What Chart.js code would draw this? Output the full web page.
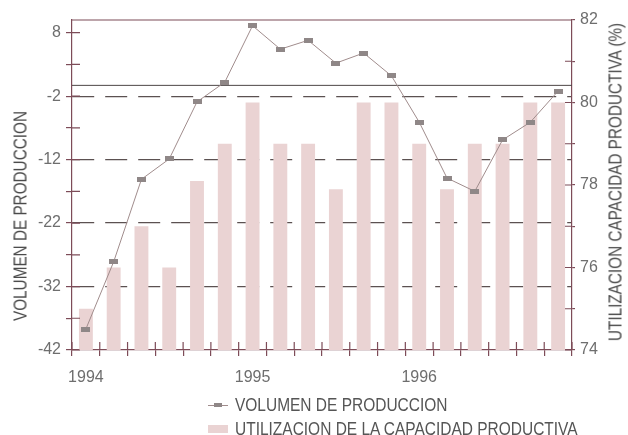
<!DOCTYPE html>
<html>
<head>
<meta charset="utf-8">
<script src="https://cdn.jsdelivr.net/npm/chart.js@4.4.0/dist/chart.umd.min.js"></script>
<style>
body{margin:0;background:#fff;}
#wrap{position:relative;width:628px;height:435px;font-family:'Liberation Sans',Arial,sans-serif;}
.titulo{position:absolute;white-space:nowrap;font-size:18px;color:#4a4a4a;transform:translate(-50%,-50%) rotate(-90deg) scaleX(0.85);}
#leyenda{position:absolute;left:208px;top:393px;font-size:18px;color:#555;line-height:24px;}
.item{display:flex;align-items:center;white-space:nowrap;}
.item b{font-weight:normal;display:inline-block;transform:scaleX(0.86);transform-origin:0 50%;}
.sym{display:inline-block;width:20px;margin-right:7px;position:relative;}
.linea{height:1px;background:#a08c8c;}
.linea i{position:absolute;left:6px;top:-2px;width:8px;height:4px;background:#8f8787;}
.barra{height:8px;background:#ead3d3;}
</style>
</head>
<body>
<div id="wrap">
	<canvas id="grafico" width="628" height="435"></canvas>
	<div class="titulo" style="left:21px;top:216px;">VOLUMEN DE PRODUCCION</div>
	<div class="titulo" style="left:616px;top:182px;">UTILIZACION CAPACIDAD PRODUCTIVA (%)</div>
	<div id="leyenda">
		<div class="item"><span class="sym linea"><i></i></span><b>VOLUMEN DE PRODUCCION</b></div>
		<div class="item"><span class="sym barra"></span><b>UTILIZACION DE LA CAPACIDAD PRODUCTIVA</b></div>
	</div>
</div>
<script>
document.addEventListener("DOMContentLoaded", function(){
	// datos bimestrales 1994-1996
	const periodos = ['1994','','','','','','1995','','','','','','1996','','','','',''];
	const volumen = [-38.7,-28.1,-15.1,-11.9,-2.9,0.2,9.1,5.4,6.8,3.2,4.8,1.2,-6.1,-14.9,-17.0,-8.9,-6.1,-1.2];
	const utilizacion = [75,76,77,76,78.1,79,80,79,79,77.9,80,80,79,77.9,79,79,80,80];
	const etiquetasIzq = [8,-2,-12,-22,-32,-42];
	const lineasGuia = [-2,-12,-22,-32];
	const lineaRef = -0.3;

	const colorEje = '#7d4c58';
	const fuente = "'Liberation Sans',Arial,sans-serif";

	// marcador rectangular del volumen
	const marca = document.createElement('canvas');
	marca.width = 9; marca.height = 5;
	const mc = marca.getContext('2d');
	mc.fillStyle = '#8f8787';
	mc.fillRect(0, 0, 9, 5);

	const extras = {
		id: 'extras',
		beforeDatasetsDraw(chart) {
			const {ctx, chartArea, scales} = chart;
			const y = scales.y.getPixelForValue(lineaRef);
			ctx.save();
			ctx.strokeStyle = '#4d4646';
			ctx.lineWidth = 1;
			ctx.beginPath();
			ctx.moveTo(chartArea.left, y);
			ctx.lineTo(chartArea.right, y);
			ctx.stroke();
			ctx.restore();
		},
		afterDraw(chart) {
			const {ctx, chartArea, scales} = chart;
			ctx.save();
			ctx.strokeStyle = colorEje;
			ctx.lineWidth = 1.2;
			ctx.beginPath();
			ctx.moveTo(chartArea.left, chartArea.top);
			ctx.lineTo(chartArea.right, chartArea.top);
			// marcas interiores
			scales.y.ticks.forEach(t => {
				const p = scales.y.getPixelForValue(t.value);
				ctx.moveTo(chartArea.left, p); ctx.lineTo(chartArea.left + 8, p);
			});
			scales.y1.ticks.forEach(t => {
				const p = scales.y1.getPixelForValue(t.value);
				ctx.moveTo(chartArea.right, p); ctx.lineTo(chartArea.right - 7, p);
			});
			const paso = scales.x.width / periodos.length;
			for (let i = 0; i <= periodos.length; i++) {
				const p = scales.x.left + i * paso;
				ctx.moveTo(p, chartArea.bottom); ctx.lineTo(p, chartArea.bottom - 8);
			}
			ctx.stroke();
			ctx.restore();
		}
	};

	const ctx = document.getElementById('grafico').getContext('2d');
	new Chart(ctx, {
		data: {
			labels: periodos,
			datasets: [
				{
					type: 'line',
					label: 'VOLUMEN DE PRODUCCION',
					data: volumen,
					yAxisID: 'y',
					borderColor: '#a08c8c',
					borderWidth: 1,
					pointStyle: marca,
					pointRadius: 4,
					tension: 0
				},
				{
					type: 'bar',
					label: 'UTILIZACION DE LA CAPACIDAD PRODUCTIVA',
					data: utilizacion,
					yAxisID: 'y1',
					backgroundColor: '#ead3d3',
					categoryPercentage: 1,
					barPercentage: 0.5
				}
			]
		},
		options: {
			responsive: false,
			animation: false,
			devicePixelRatio: 1,
			layout: { padding: { left: 0, right: 0, top: 20, bottom: 45 } },
			plugins: {
				legend: { display: false },
				tooltip: { enabled: false }
			},
			scales: {
				x: {
					offset: true,
					afterFit: (s) => { s.height = 40; },
					grid: { offset: true, drawOnChartArea: false, tickLength: 6, tickColor: colorEje, lineWidth: 1.2 },
					border: { color: colorEje, width: 1.2 },
					ticks: {
						autoSkip: false, maxRotation: 0, padding: 12,
						color: '#6e6e6e', font: { family: fuente, size: 16 }
					}
				},
				y: {
					position: 'left',
					min: -42, max: 10,
					afterFit: (s) => { s.width = 72; },
					afterBuildTicks: (s) => {
						const t = [];
						for (let v = -42; v <= 8; v += 5) t.push({ value: v });
						s.ticks = t;
					},
					grid: {
						color: (c) => lineasGuia.includes(c.tick && c.tick.value) ? '#5b5151' : 'rgba(0,0,0,0)',
						tickColor: colorEje, tickLength: 6, lineWidth: 1.2, tickBorderDash: []
					},
					border: { color: colorEje, width: 1.2, dash: [22, 11] },
					ticks: {
						padding: 5, color: '#6e6e6e', font: { family: fuente, size: 16 },
						callback: (v) => etiquetasIzq.includes(v) ? v : ''
					}
				},
				y1: {
					position: 'right',
					min: 74, max: 82,
					afterFit: (s) => { s.width = 56; },
					grid: { drawOnChartArea: false, tickColor: colorEje, tickLength: 3, lineWidth: 1.2 },
					border: { color: colorEje, width: 1.2 },
					ticks: {
						stepSize: 1, padding: 5, color: '#6e6e6e', font: { family: fuente, size: 16 },
						callback: (v) => v % 2 === 0 ? v : ''
					}
				}
			}
		},
		plugins: [extras]
	});
});
</script>
</body>
</html>
